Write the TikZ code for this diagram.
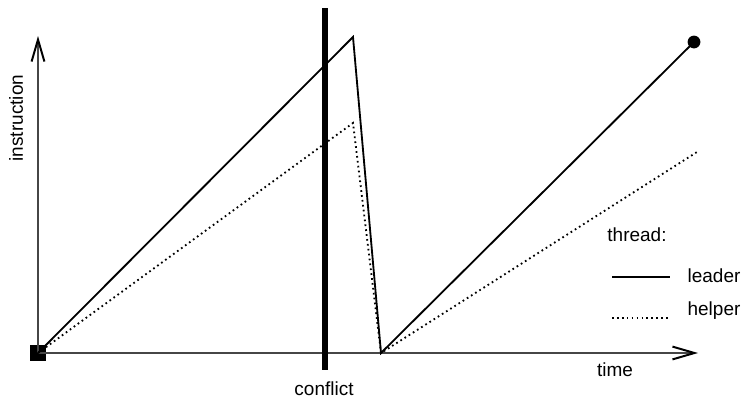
\documentclass[tikz,border=0pt]{standalone}
\usepackage{fontspec}
\setmainfont{Liberation Sans}
\usetikzlibrary{arrows.meta,positioning}
\definecolor{axisgray}{RGB}{70,70,70}

\begin{document}
\begin{tikzpicture}[x=0.025cm, y=-0.025cm,
    every node/.style={font=\fontsize{13.5}{16}\selectfont},
    axisline/.style={draw=axisgray, line width=0.8pt,
      -{Straight Barb[length=0.55cm, width=0.32cm, line width=1.4pt, color=black]}},
    leaderline/.style={line width=1.3pt, black},
    helperline/.style={line width=1.3pt, black, dash pattern=on 1.2pt off 2.3pt},
    conflictline/.style={line width=4.4pt, black}]
  \useasboundingbox (0,0) rectangle (745,408);

  % axes
  \node[fill=black, minimum size=0.38cm, inner sep=0pt] (origin) at (38,353) {};
  \coordinate (ytop) at (38,36);
  \coordinate (xend) at (698,353);
  \draw[axisline] (origin.center) -- (ytop);
  \draw[axisline] (origin.center) -- (xend);
  \node[rotate=90] (ylabel) at (16,118) {instruction};
  \node (xlabel) at (615,370) {time};

  % conflict
  \coordinate (ctop) at (325,8);
  \coordinate (cbot) at (325,370);
  \draw[conflictline] (ctop) -- (cbot);
  \node (clabel) at (324,389) {conflict};

  % leader thread
  \coordinate (lpeak) at (353,37);
  \coordinate (low) at (381,353);
  \node[circle, fill=black, minimum size=0.32cm, inner sep=0pt] (lend) at (694,42) {};
  \draw[leaderline] (origin.center) -- (lpeak) -- (low) -- (lend.center);

  % helper thread
  \coordinate (hpeak) at (353,123);
  \coordinate (hend) at (697,152);
  \draw[helperline] (origin.center) -- (hpeak) -- (low) -- (hend);

  % legend
  \node (legtitle) at (637,235) {thread:};
  \coordinate (la) at (612,277);
  \coordinate (lb) at (670,277);
  \draw[leaderline] (la) -- (lb);
  \node[right=9pt of lb, yshift=1pt] (legleader) {leader};
  \coordinate (ha) at (612,318);
  \coordinate (hb) at (670,318);
  \draw[helperline] (ha) -- (hb);
  \node[right=9pt of hb, yshift=5pt] (leghelper) {helper};
\end{tikzpicture}
\end{document}
